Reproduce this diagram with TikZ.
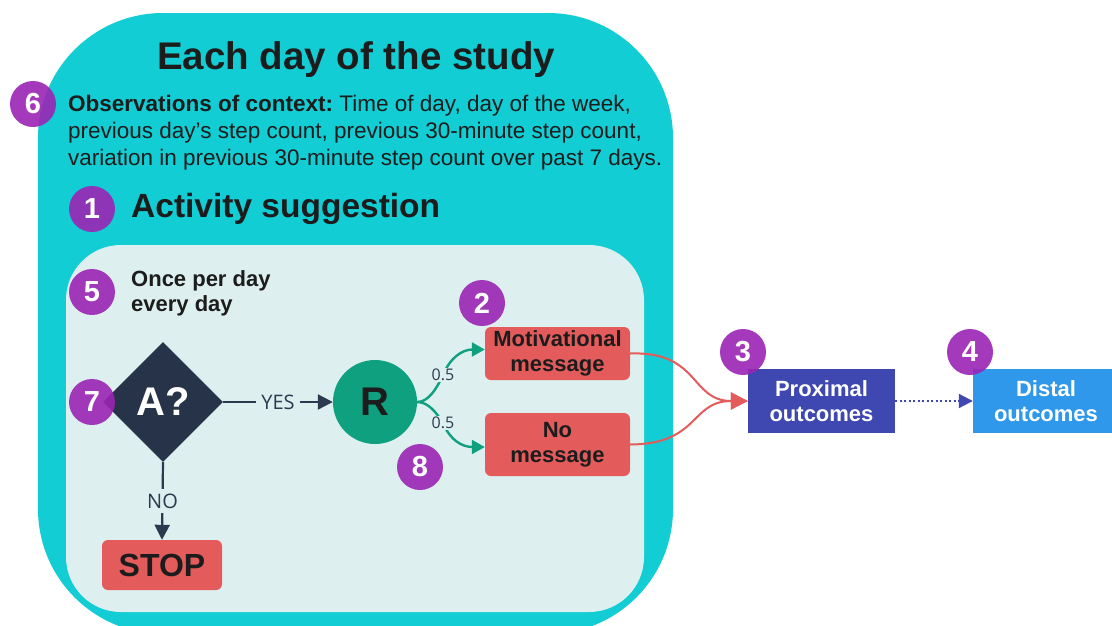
\documentclass[tikz,border=0pt]{standalone}
\usepackage{fontspec}
\setmainfont{Liberation Sans}
\newfontfamily\thinfont{Open Sans}
\usetikzlibrary{shapes.geometric,arrows.meta}
\definecolor{cTeal}{HTML}{12CDD4}
\definecolor{cInner}{HTML}{DDF0EF}
\definecolor{cPurple}{HTML}{9B24B4}
\definecolor{cRed}{HTML}{E35B5B}
\definecolor{cNavy}{HTML}{263349}
\definecolor{cGreen}{HTML}{0EA07F}
\definecolor{cIndigo}{HTML}{3F48B0}
\definecolor{cBlue}{HTML}{2F98EA}
\definecolor{cText}{HTML}{1C1C1C}
\definecolor{cLine}{HTML}{2B3A4F}
\frenchspacing
\begin{document}
\begin{tikzpicture}[x=1pt,y=-1pt,
  numc/.style={circle, fill=cPurple, fill opacity=0.9, text opacity=1, text=white,
    font=\bfseries\fontsize{29}{32}\selectfont, minimum size=46, inner sep=0},
  redbox/.style={rectangle, rounded corners=6, fill=cRed, text=cText, align=center,
    font=\bfseries\fontsize{22}{25}\selectfont, inner sep=0},
  outbox/.style={rectangle, text=white, align=center,
    font=\bfseries\fontsize{22}{25}\selectfont, minimum width=147, minimum height=64, inner sep=0},
  navyline/.style={draw=cLine, line width=2.2, -{Triangle[length=15pt,width=15pt]}},
  lbl/.style={fill=cInner, text=cLine, inner sep=5, font=\thinfont\fontsize{20}{22}\selectfont},
  greenarrow/.style={draw=cGreen, line width=2.4, -{Triangle[length=13pt,width=14pt]}},
  redline/.style={draw=cRed, line width=2, -{Triangle[length=17pt,width=17pt]}},
  prob/.style={fill=cInner, text=cLine, inner sep=1.5, font=\thinfont\fontsize{16}{18}\selectfont}
]
\useasboundingbox (0,0) rectangle (1112,625);
\clip (0,0) rectangle (1112,625);
\fill[white] (0,0) rectangle (1112,625);
% outer and inner panels
\fill[cTeal, rounded corners=125] (38,13) rectangle (673,634);
\fill[cInner, rounded corners=55] (66,245) rectangle (644,612);

% texts
\node[text=cText, inner sep=0, font=\bfseries\fontsize{38.5}{44}\selectfont] (title) at (356,60) {Each day of the study};
\node[anchor=north west, align=left, inner sep=0, text=cText, font=\fontsize{22.5}{27}\selectfont] (obs) at (68,95)
  {\textbf{Observations of context:} Time of day, day of the week,\\
   previous day’s step count, previous 30-minute step count,\\
   variation in previous 30-minute step count over past 7 days.};
\node[anchor=west, inner sep=0, text=cText, font=\bfseries\fontsize{33.5}{38}\selectfont] (act) at (131,209) {Activity suggestion};
\node[anchor=north west, align=left, inner sep=0, text=cText, font=\bfseries\fontsize{22}{25}\selectfont] (once) at (131,270)
  {Once per day\\every day};

% flow nodes
\node[diamond, fill=cNavy, minimum width=120, minimum height=120, inner sep=0, text=white,
  font=\bfseries\fontsize{40}{44}\selectfont] (A) at (163,402) {A?};
\node[circle, fill=cGreen, minimum size=84, inner sep=0, text=cText,
  font=\bfseries\fontsize{40}{44}\selectfont] (R) at (375,402) {R};
\node[redbox, minimum width=145, minimum height=53] (mot) at (557.5,353.5) {Motivational\\message};
\node[redbox, minimum width=145, minimum height=63] (nomsg) at (557.5,444.5) {No\\message};
\node[redbox, minimum width=120, minimum height=50, font=\bfseries\fontsize{32}{36}\selectfont] (stop) at (162,565) {STOP};
\node[outbox, fill=cIndigo] (prox) at (821.5,401) {Proximal\\outcomes};
\node[outbox, fill=cBlue, minimum width=146] (distal) at (1046,401) {Distal\\outcomes};

% connectors
\draw[navyline] (A.east) -- node[lbl] (yes) {YES} (R.west);
\draw[navyline] (A.south) -- node[lbl] (no) {NO} (stop.north);
\draw[greenarrow] (R.east) .. controls (428,402) and (436,390) .. (443,375)
  node[prob] (p1) {0.5}
  .. controls (450,358) and (462,349.5) .. ([yshift=4pt]mot.west);
\draw[greenarrow] (R.east) .. controls (428,402) and (436,412) .. (443,423)
  node[prob] (p2) {0.5}
  .. controls (450,440) and (462,447) .. ([yshift=-2.5pt]nomsg.west);
\draw[redline] (mot.east) .. controls (700,351) and (690,401) .. (prox.west);
\draw[redline] (nomsg.east) .. controls (700,444) and (690,401) .. (prox.west);
\draw[draw=cIndigo, line width=2, dash pattern=on 2pt off 2.5pt, -{Triangle[length=14pt,width=14pt]}] (prox.east) -- (distal.west);

% number badges
\node[numc] (n6) at (33,104) {6};
\node[numc] (n1) at (92,209) {1};
\node[numc] (n5) at (92,292) {5};
\node[numc] (n7) at (92,402) {7};
\node[numc] (n2) at (482,303) {2};
\node[numc] (n8) at (420,467) {8};
\node[numc] (n3) at (743,352) {3};
\node[numc] (n4) at (970,352) {4};
\end{tikzpicture}
\end{document}
